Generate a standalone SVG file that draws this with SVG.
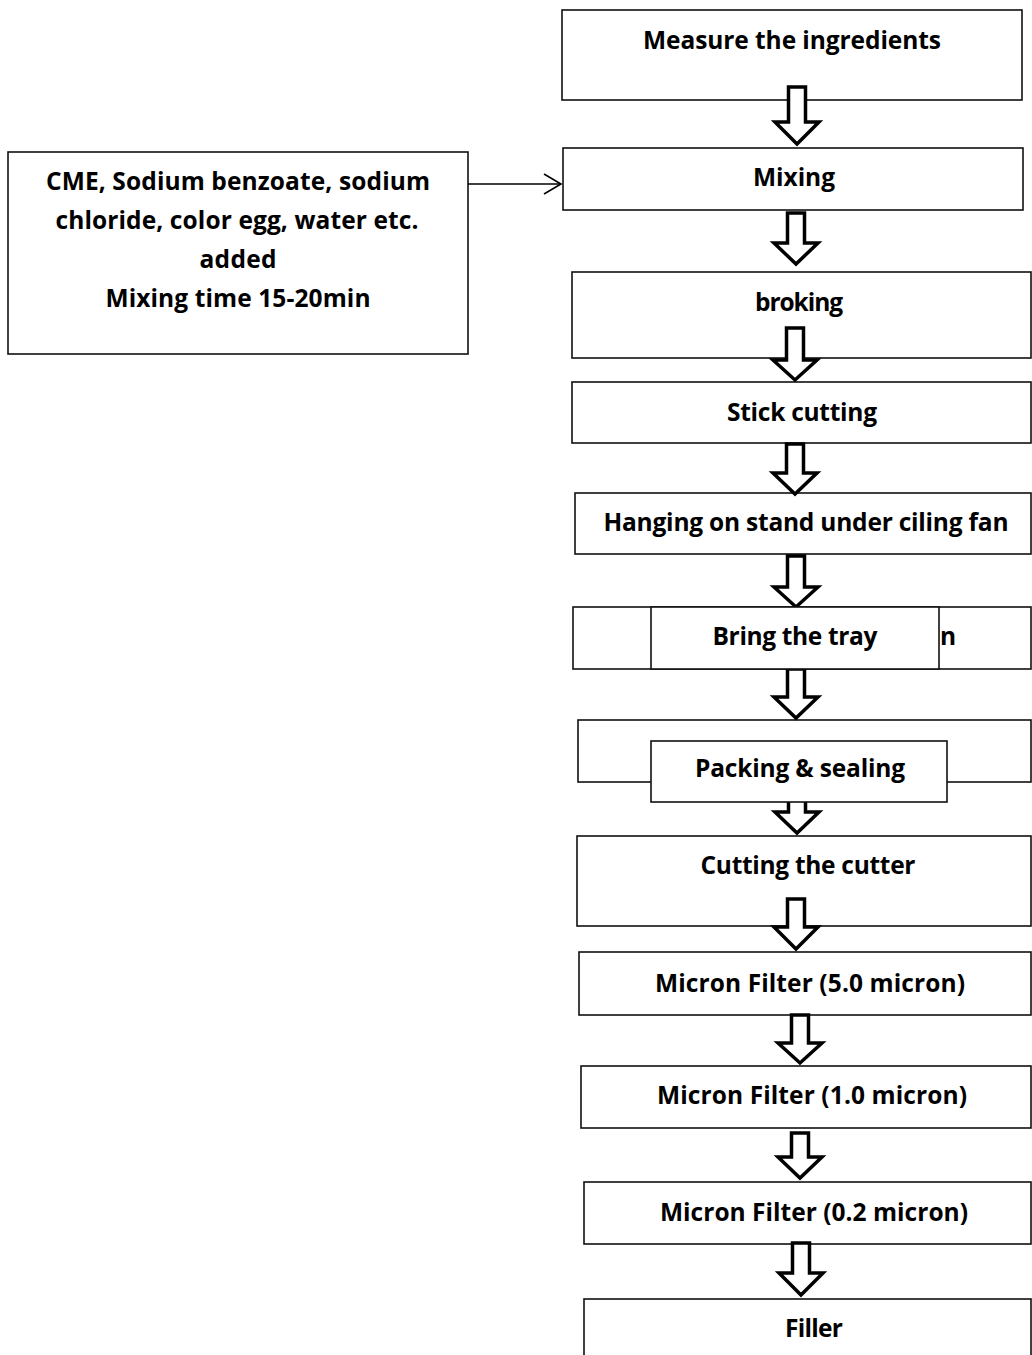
<svg xmlns="http://www.w3.org/2000/svg" width="1032" height="1355" viewBox="0 0 1032 1355">
<style>
.box{fill:#fff;stroke:#111;stroke-width:1.6}
.t{font-family:"Open Sans","Liberation Sans",sans-serif;font-weight:700;font-size:24.5px;fill:#000;text-anchor:middle}
.blk{fill:#fff;stroke:#000;stroke-width:3.5;stroke-linejoin:miter}
.ln{fill:none;stroke:#000;stroke-width:1.6}
</style>
<defs>
<marker id="open" markerWidth="20" markerHeight="22" refX="18" refY="11" orient="auto" markerUnits="userSpaceOnUse">
<path d="M1,1 L18,11 L1,21" fill="none" stroke="#000" stroke-width="1.6"/>
</marker>
</defs>
<rect width="1032" height="1355" fill="#fff"/>

<g id="n-measure"><rect class="box" x="562" y="10" width="460" height="90"/><text class="t" x="792" y="49" textLength="298">Measure the ingredients</text></g>
<g id="n-mixing"><rect class="box" x="563" y="148" width="460" height="62"/><text class="t" x="794" y="186" textLength="82">Mixing</text></g>
<g id="n-additives"><rect class="box" x="8" y="152" width="460" height="202"/>
<text class="t" x="238" y="190" textLength="384">CME, Sodium benzoate, sodium</text>
<text class="t" x="237" y="229" textLength="363">chloride, color egg, water etc.</text>
<text class="t" x="238" y="268" textLength="77">added</text>
<text class="t" x="238" y="307" textLength="265">Mixing time 15-20min</text></g>
<g id="n-broking"><rect class="box" x="572" y="272" width="459" height="86"/><text class="t" x="799" y="311" textLength="88">broking</text></g>
<g id="n-stick"><rect class="box" x="572" y="382" width="459" height="61"/><text class="t" x="802" y="421" textLength="150">Stick cutting</text></g>
<g id="n-hanging"><rect class="box" x="575" y="493" width="456" height="61"/><text class="t" x="806" y="531" textLength="405">Hanging on stand under ciling fan</text></g>
<g id="n-hidden1"><rect class="box" x="573" y="607" width="458" height="62"/><text class="t" x="940" y="645" style="text-anchor:start">n</text></g>
<g id="n-hidden2"><rect class="box" x="578" y="720" width="453" height="62"/></g>
<g id="n-cutting"><rect class="box" x="577" y="836" width="454" height="90"/><text class="t" x="808" y="874" textLength="215">Cutting the cutter</text></g>
<g id="n-micron5"><rect class="box" x="579" y="952" width="452" height="63"/><text class="t" x="810" y="992" textLength="310">Micron Filter (5.0 micron)</text></g>
<g id="n-micron1"><rect class="box" x="581" y="1066" width="450" height="62"/><text class="t" x="812" y="1104" textLength="310">Micron Filter (1.0 micron)</text></g>
<g id="n-micron02"><rect class="box" x="584" y="1182" width="447" height="62"/><text class="t" x="814" y="1221" textLength="308">Micron Filter (0.2 micron)</text></g>
<g id="n-filler"><rect class="box" x="584" y="1299" width="447" height="70"/><text class="t" x="814" y="1337" textLength="58">Filler</text></g>

<g id="connectors">
<line class="ln" x1="468" y1="184" x2="561" y2="184" marker-end="url(#open)"/>
<path class="blk" d="M788.5,87 H805.5 V122 H819 L797,144 L775,122 H788.5 Z"/>
<path class="blk" d="M787.5,213 H804.5 V243 H818 L796,264 L774,243 H787.5 Z"/>
<path class="blk" d="M786.5,328 H803.5 V360 H817 L795,380 L773,360 H786.5 Z"/>
<path class="blk" d="M786.5,444 H803.5 V473 H817 L795,494 L773,473 H786.5 Z"/>
<path class="blk" d="M787.5,556 H804.5 V587 H818 L796,607 L774,587 H787.5 Z"/>
<path class="blk" d="M787.5,669 H804.5 V697 H818 L796,718 L774,697 H787.5 Z"/>
<path class="blk" d="M788.5,790 H805.5 V812 H819 L797,833 L775,812 H788.5 Z"/>
<path class="blk" d="M787.5,899 H804.5 V927 H818 L796,949 L774,927 H787.5 Z"/>
<path class="blk" d="M791.5,1015 H808.5 V1043 H822 L800,1063 L778,1043 H791.5 Z"/>
<path class="blk" d="M791.5,1133 H808.5 V1157 H822 L800,1178 L778,1157 H791.5 Z"/>
<path class="blk" d="M792.5,1243 H809.5 V1273 H823 L801,1295 L779,1273 H792.5 Z"/>
</g>

<g id="n-tray"><rect class="box" x="651" y="607" width="288" height="62"/><text class="t" x="795" y="645" textLength="165">Bring the tray</text></g>
<g id="n-packing"><rect class="box" x="651" y="741" width="296" height="61"/><text class="t" x="800" y="777" textLength="210">Packing &amp; sealing</text></g>
</svg>
